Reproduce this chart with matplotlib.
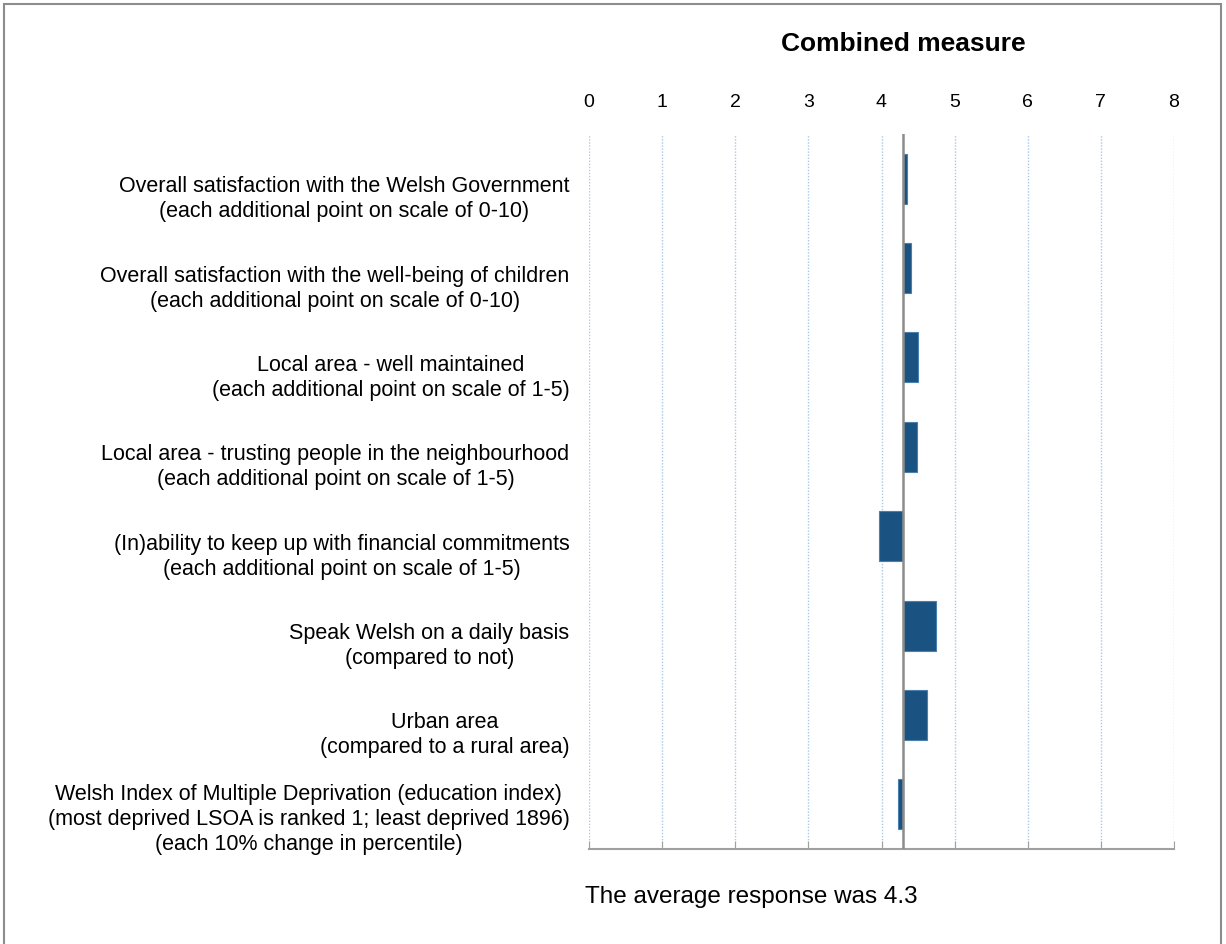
import matplotlib.pyplot as plt
from matplotlib.patches import Rectangle

plt.rcParams['font.family'] = ['Liberation Sans', 'DejaVu Sans']

# Data
average = 4.3
labels = [
    "Overall satisfaction with the Welsh Government\n(each additional point on scale of 0-10)",
    "Overall satisfaction with the well-being of children\n(each additional point on scale of 0-10)",
    "Local area - well maintained\n(each additional point on scale of 1-5)",
    "Local area - trusting people in the neighbourhood\n(each additional point on scale of 1-5)",
    "(In)ability to keep up with financial commitments\n(each additional point on scale of 1-5)",
    "Speak Welsh on a daily basis\n(compared to not)",
    "Urban area\n(compared to a rural area)",
    "Welsh Index of Multiple Deprivation (education index)\n(most deprived LSOA is ranked 1; least deprived 1896)\n(each 10% change in percentile)",
]
effects = [0.05, 0.11, 0.20, 0.18, -0.33, 0.45, 0.32, -0.08]
ticks = [0, 1, 2, 3, 4, 5, 6, 7, 8]

fig = plt.figure(figsize=(12.26, 9.45), dpi=100)
ax = fig.add_axes([589 / 1226, 1 - 850 / 945, (1174 - 589) / 1226, (850 - 135) / 945])

ypos = list(range(len(labels)))
ax.barh(ypos, effects, left=average, height=0.56, color='#1a5282',
        edgecolor='#4a7fae', linewidth=0.8, zorder=3)
ax.axvline(average, color='#8c8c8c', lw=1.8, zorder=4)

ax.set_xlim(0, 8)
ax.set_ylim(len(labels) - 0.5, -0.5)
ax.set_xticks(ticks)
ax.set_xticklabels([str(t) for t in ticks], fontsize=14)
ax.tick_params(axis='x', top=False, labeltop=True, bottom=True, labelbottom=False,
               direction='in', length=6, color='#a0a0a0', pad=17)
ax.set_yticks([])

# category labels sit a little below the bar centres, as in the original
for y, lab in zip(ypos, labels):
    ax.annotate(lab, xy=(0, y), xycoords=('axes fraction', 'data'),
                xytext=(-14, -14 if lab.count('\n') == 1 else -10),
                textcoords='offset points', ha='right', va='center',
                multialignment='center', linespacing=1.25, fontsize=15.5)

ax.grid(axis='x', linestyle=(0, (1, 1.2)), color='#a9c8e8', lw=1.0, zorder=0)
for s in ['top', 'left', 'right']:
    ax.spines[s].set_visible(False)
ax.spines['bottom'].set_color('#a0a0a0')
ax.spines['bottom'].set_linewidth(1.5)

fig.text(903 / 1226, 1 - 44 / 945, "Combined measure", ha='center', va='center',
         fontsize=19, fontweight='bold')
fig.text(585 / 1226, 1 - 897 / 945, "The average response was 4.3", ha='left',
         va='center', fontsize=17.5)

fig.patches.append(Rectangle((4 / 1226, -0.02), (1221 - 4) / 1226, 1.02 - 5 / 945,
                             transform=fig.transFigure, fill=False,
                             edgecolor='#8c8c8c', lw=1.5))

fig.savefig('out.png', dpi=100)
